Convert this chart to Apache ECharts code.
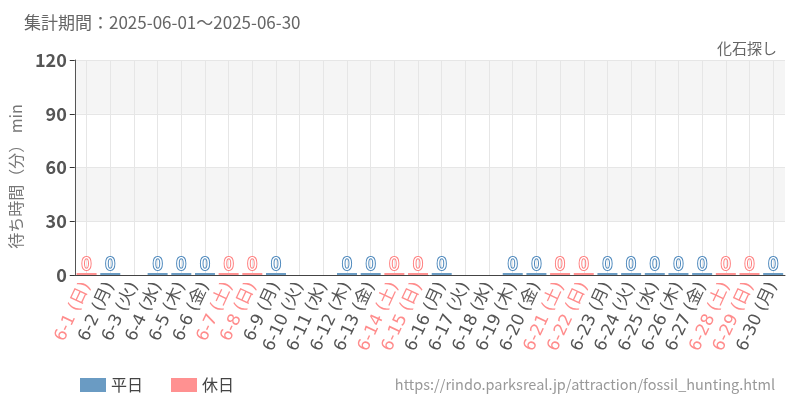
<!DOCTYPE html>
<html><head><meta charset="utf-8">
<script src="https://cdn.jsdelivr.net/npm/echarts@6/dist/echarts.min.js"></script>
<style>html,body{margin:0;padding:0;background:#fff}#c{width:800px;height:400px}</style>
</head><body><div id="c"></div>
<script>
const categories = ['6-1','6-2','6-3','6-4','6-5','6-6','6-7','6-8','6-9','6-10','6-11','6-12','6-13','6-14','6-15','6-16','6-17','6-18','6-19','6-20','6-21','6-22','6-23','6-24','6-25','6-26','6-27','6-28','6-29','6-30'];
const weekdays = ['日','月','火','水','木','金','土','日','月','火','水','木','金','土','日','月','火','水','木','金','土','日','月','火','水','木','金','土','日','月'];
const holidayFlags = [1,0,0,0,0,0,1,1,0,0,0,0,0,1,1,0,0,0,0,0,1,1,0,0,0,0,0,1,1,0];
// waiting time (min); null = no data
const waitTimes = [0,0,null,0,0,0,0,0,0,null,null,0,0,0,0,0,null,null,0,0,0,0,0,0,0,0,0,0,0,0];
const yTicks = [0,30,60,90,120];

const BLUE = '#6a9bc3', PINK = '#ff9191';
const weekdayData = waitTimes.map((v,i)=> (v===null||holidayFlags[i]) ? '-' : v);
const holidayData = waitTimes.map((v,i)=> (v===null||!holidayFlags[i]) ? '-' : v);
const labels = categories.map((c,i)=> c + ' (' + weekdays[i] + ')');
const FONT = '"Noto Sans CJK JP", "Noto Sans", sans-serif';
const XFONT = '"DejaVu Sans", "Noto Sans CJK JP", sans-serif';

const chart = echarts.init(document.getElementById('c'));
chart.setOption({
  animation:false,
  textStyle:{fontFamily:FONT},
  title:[
    {text:'集計期間：2025-06-01～2025-06-30', left:19, top:9, textStyle:{fontSize:17, fontWeight:'normal', color:'#666', fontFamily:FONT}},
    {text:'化石探し', right:18, top:36, textStyle:{fontSize:15, fontWeight:'normal', color:'#666', fontFamily:FONT}},
    {text:'https://rindo.parksreal.jp/attraction/fossil_hunting.html', right:20, top:372, textStyle:{fontSize:14.5, fontWeight:'normal', color:'#999', fontFamily:FONT}}
  ],
  legend:{left:75, top:372, itemWidth:26, itemHeight:14, itemGap:28, textStyle:{fontSize:16, color:'#444', fontFamily:FONT},
    data:[{name:'平日', icon:'rect'},{name:'休日', icon:'rect'}]},
  grid:{left:69, right:15, top:60, bottom:125, containLabel:false},
  xAxis:{type:'category', data:labels,
    axisLine:{lineStyle:{color:'#444'}},
    axisTick:{alignWithLabel:true, lineStyle:{color:'#333'}},
    splitLine:{show:true, alignWithLabel:true, lineStyle:{color:'#e6e6e6'}},
    axisLabel:{interval:0, rotate:65, fontSize:17, margin:8, fontFamily:XFONT,
      color:(v,i)=> holidayFlags[i] ? '#ff8c8c' : '#555'}
  },
  yAxis:{type:'value', min:yTicks[0], max:yTicks[yTicks.length-1], interval:30,
    name:'待ち時間（分） min', nameLocation:'middle', nameGap:41, nameRotate:90,
    nameTextStyle:{fontSize:16, color:'#777', fontFamily:FONT, padding:[0,18,0,0]},
    axisLine:{show:true, lineStyle:{color:'#555'}},
    axisTick:{show:true, lineStyle:{color:'#333'}},
    axisLabel:{fontSize:18, color:'#555', fontWeight:'bold', fontFamily:FONT},
    splitLine:{show:true, lineStyle:{color:'#e6e6e6'}},
    splitArea:{show:true, areaStyle:{color:['rgba(255,255,255,0)','#f5f5f5']}}
  },
  series:[
    {name:'平日', type:'bar', stack:'a', data:weekdayData, barWidth:20, barMinHeight:2,
      itemStyle:{color:BLUE},
      label:{show:true, position:'top', distance:1, fontSize:18, color:'#fff', textBorderColor:'#4a86bb', textBorderWidth:2, fontFamily:FONT}},
    {name:'休日', type:'bar', stack:'a', data:holidayData, barWidth:20, barMinHeight:2,
      itemStyle:{color:PINK},
      label:{show:true, position:'top', distance:1, fontSize:18, color:'#fff', textBorderColor:'#ff7c7c', textBorderWidth:2, fontFamily:FONT}}
  ]
});
</script></body></html>
